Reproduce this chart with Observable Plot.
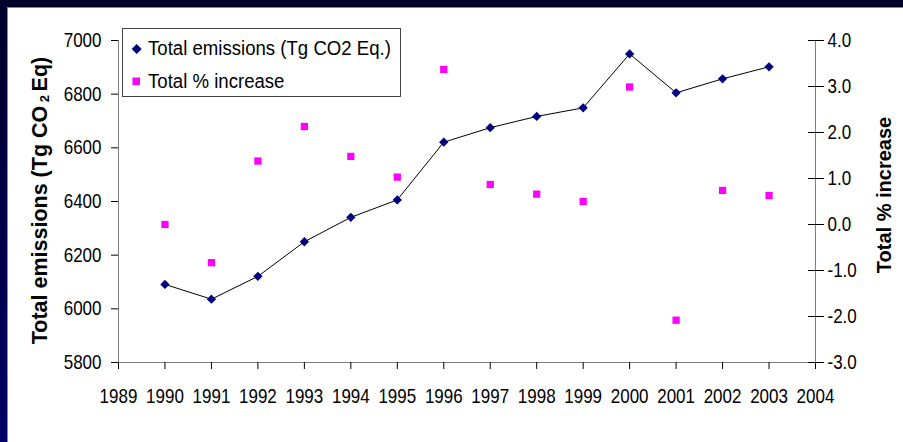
<!DOCTYPE html>
<html><head><meta charset="utf-8">
<script src="https://cdn.jsdelivr.net/npm/d3@7"></script>
<script src="https://cdn.jsdelivr.net/npm/@observablehq/plot@0.6"></script>
<style>
html,body{margin:0;padding:0;}
body{width:903px;height:442px;overflow:hidden;position:relative;background:linear-gradient(to bottom,#00002a,#000066);font-family:"Liberation Sans",Arial,sans-serif;}
#panel{position:absolute;left:7px;top:7px;right:0;bottom:0;background:#fff;border-left:1px solid #888;border-top:1px solid #888;}
.layer{position:absolute;left:0;top:0;}
#legend{position:absolute;left:122px;top:28px;width:277px;height:67px;border:1px solid #444;background:#fff;}
.lt{position:absolute;left:25px;font-size:20px;line-height:20px;white-space:nowrap;transform:scaleX(0.93);transform-origin:left center;color:#000;}
.title{position:absolute;width:400px;text-align:center;font-weight:bold;white-space:nowrap;color:#000;transform:rotate(-90deg);transform-origin:center center;}
</style></head>
<body>
<div id="panel"></div>
<div id="c1" class="layer"></div>
<div id="c2" class="layer"></div>
<div id="legend">
  <svg width="20" height="67" style="position:absolute;left:4px;top:0">
    <path d="M9.7,15 L14.7,20 L9.7,25 L4.7,20 Z" fill="#000080"/>
    <rect x="5.5" y="48.5" width="7.5" height="7.5" fill="#ff00ff"/>
  </svg>
  <span class="lt" style="top:9px">Total emissions (Tg CO2 Eq.)</span>
  <span class="lt" style="top:42px">Total % increase</span>
</div>
<div class="title" style="left:-158px;top:186px;font-size:21.5px;line-height:24px;">Total emissions (Tg CO<sub style="font-size:60%;vertical-align:-2px;"> 2 </sub>Eq)</div>
<div class="title" style="left:684px;top:183px;font-size:20px;line-height:24px;">Total % increase</div>
<script>
const years = [1990,1991,1992,1993,1994,1995,1996,1997,1998,1999,2000,2001,2002,2003];
const emissions = [6091,6036,6121,6250,6341,6406,6621,6675,6717,6749,6950,6805,6857,6902];
const pctIncrease = [0.0,-0.83,1.38,2.13,1.48,1.03,3.37,0.87,0.66,0.50,2.99,-2.08,0.74,0.63];
const yearTicks = [1989,1990,1991,1992,1993,1994,1995,1996,1997,1998,1999,2000,2001,2002,2003,2004];
const emissionTicks = [5800,6000,6200,6400,6600,6800,7000];
const pctTicks = [-3,-2,-1,0,1,2,3,4];

const data = years.map((year,i)=>({year, emissions: emissions[i], pct: pctIncrease[i]}));
const tickFont = '"Liberation Sans",Arial,sans-serif';
const common = {
  width:903, height:442, marginLeft:118, marginRight:88, marginTop:40, marginBottom:80,
  style:{background:"transparent", fontFamily:tickFont, fontSize:"20px", color:"#000", overflow:"visible"},
  x:{domain:[1989,2004], axis:null},
};
const p1 = Plot.plot({
  ...common,
  y:{domain:[5800,7000], axis:null},
  marks:[
    Plot.ruleX([1989],{stroke:"#808080"}),
    Plot.ruleY([5800],{stroke:"#808080"}),
    Plot.axisX(yearTicks,{anchor:"bottom", tickSize:7, tickPadding:19, tickFormat:d=>String(d), label:null, fontSize:20, stroke:"#000"}),
    Plot.axisY(emissionTicks,{anchor:"left", tickSize:7, tickPadding:10, tickFormat:d=>String(d), label:null, fontSize:20, stroke:"#000"}),
    Plot.line(data,{x:"year", y:"emissions", stroke:"#000", strokeWidth:1}),
    Plot.dot(data,{x:"year", y:"emissions", symbol:"diamond2", r:4.2, fill:"#000080", stroke:"none"})
  ]
});
document.getElementById("c1").append(p1);
const p2 = Plot.plot({
  ...common,
  y:{domain:[-3,4], axis:null},
  marks:[
    Plot.ruleX([2004],{stroke:"#808080"}),
    Plot.axisY(pctTicks,{anchor:"right", tickSize:8, dx:-8, tickFormat:()=>"", label:null, stroke:"#000"}),
    Plot.axisY(pctTicks,{anchor:"right", tickSize:8, tickPadding:4, tickFormat:d=>d.toFixed(1), label:null, fontSize:20, textAnchor:"start", stroke:"#000"}),
    Plot.dot(data,{x:"year", y:"pct", symbol:"square", r:4.1, fill:"#ff00ff", stroke:"none"})
  ]
});
document.getElementById("c2").append(p2);
// narrow the tick labels horizontally (condensed look of the original)
for (const svg of [p1, p2]) {
  d3.select(svg).selectAll('g[aria-label="x-axis tick label"] text, g[aria-label="y-axis tick label"] text')
    .attr("transform", function() { return (this.getAttribute("transform") || "") + " scale(0.85,1)"; });
}
</script>
</body></html>
